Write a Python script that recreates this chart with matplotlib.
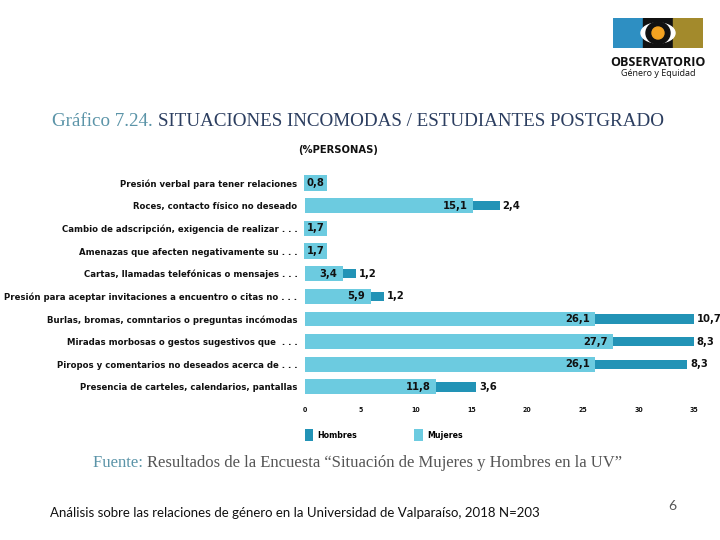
import matplotlib
matplotlib.use("Agg")
import matplotlib.pyplot as plt
from matplotlib.patches import Rectangle, Circle, Patch, Ellipse

categories = [
    "Presión verbal para tener relaciones",
    "Roces, contacto físico no deseado",
    "Cambio de adscripción, exigencia de realizar . . .",
    "Amenazas que afecten negativamente su . . .",
    "Cartas, llamadas telefónicas o mensajes . . .",
    "Presión para aceptar invitaciones a encuentro o citas no . . .",
    "Burlas, bromas, comntarios o preguntas incómodas",
    "Miradas morbosas o gestos sugestivos que  . . .",
    "Piropos y comentarios no deseados acerca de . . .",
    "Presencia de carteles, calendarios, pantallas",
]
mujeres = [0.8, 15.1, 1.7, 1.7, 3.4, 5.9, 26.1, 27.7, 26.1, 11.8]
hombres = [0.0, 2.4, 0.0, 0.0, 1.2, 1.2, 10.7, 8.3, 8.3, 3.6]
xticks = [0, 5, 10, 15, 20, 25, 30, 35]

LIGHT = "#6ccbe0"
DARK = "#2293b6"
COND = dict(family="DejaVu Sans", fontstretch="condensed", fontweight="bold")

fig = plt.figure(figsize=(7.2, 5.4), dpi=100)
W, H = 720, 540

def fx(px):
    return px / W

def fy(py):
    return 1 - py / H

ax = fig.add_axes([fx(305), fy(398.3), fx(694) - fx(305), fy(171.7) - fy(398.3)])
ypos = list(range(len(categories)))
ax.barh(ypos, mujeres, height=0.66, color=LIGHT, zorder=2)
ax.barh(ypos, hombres, left=mujeres, height=0.42, color=DARK, zorder=2)
ax.set_xlim(0, 35)
ax.set_ylim(len(categories) - 0.5, -0.5)
for s in ax.spines.values():
    s.set_visible(False)
ax.set_yticks(ypos)
ax.set_yticklabels(categories, fontsize=6.8, color="#111111", **COND)
ax.tick_params(axis="y", length=0, pad=5.5)
ax.set_xticks(xticks)
ax.set_xticklabels([str(t) for t in xticks], fontsize=5, color="#111111", **COND)
ax.tick_params(axis="x", length=0, pad=6)

VS = 8
for i, (m, h) in enumerate(zip(mujeres, hombres)):
    lab = f"{m:.1f}".replace(".", ",")
    if m >= 3:
        ax.text(m - 0.5, i, lab, ha="right", va="center", fontsize=VS,
                color="#111111", zorder=3, **COND)
    else:
        ax.text(0.15, i, lab, ha="left", va="center", fontsize=VS,
                color="#111111", zorder=3,
                bbox=dict(facecolor=LIGHT, edgecolor="none", pad=1.8), **COND)
    if h > 0:
        end = min(m + h, 35)
        ax.text(end + 0.25, i, f"{h:.1f}".replace(".", ","), ha="left",
                va="center", fontsize=VS, color="#111111", clip_on=False, **COND)

handles = [Patch(facecolor=DARK, edgecolor="none", label="Hombres"),
           Patch(facecolor=LIGHT, edgecolor="none", label="Mujeres")]
fig.legend(handles=handles, loc="center left", bbox_to_anchor=(fx(297), fy(435)),
           ncol=2, frameon=False, handlelength=0.95, handleheight=1.7,
           columnspacing=6.5, handletextpad=0.5,
           prop=dict(family="DejaVu Sans", stretch="condensed", weight="bold", size=6.3))

# Titles
t1 = fig.text(fx(52), fy(122), "Gráfico 7.24. ", fontsize=13.7, color="#5b94a8",
              family="Liberation Serif", va="center", ha="left")
fig.canvas.draw()
bb = t1.get_window_extent()
fig.text(bb.x1 / W, fy(122), "SITUACIONES INCOMODAS / ESTUDIANTES POSTGRADO",
         fontsize=13.7, color="#2c3e60", family="Liberation Serif", va="center", ha="left")
fig.text(fx(338), fy(150), "(%PERSONAS)", fontsize=8, color="#111111",
         ha="center", va="center", **COND)

f1 = fig.text(fx(93), fy(463), "Fuente: ", fontsize=12, color="#5b94a8",
              family="Liberation Serif", va="center", ha="left")
fig.canvas.draw()
bb2 = f1.get_window_extent()
fig.text(bb2.x1 / W, fy(463), "Resultados de la Encuesta \u201cSituación de Mujeres y Hombres en la UV\u201d",
         fontsize=12, color="#555555", family="Liberation Serif", va="center", ha="left")

fig.text(fx(50), fy(513), "Análisis sobre las relaciones de género en la Universidad de Valparaíso, 2018 N=203",
         fontsize=9.5, color="#111111", family="Lato", va="center", ha="left")
fig.text(fx(672), fy(506), "6", fontsize=10, color="#555555", family="Lato",
         va="center", ha="center")

# Logo (decorative)
lax = fig.add_axes([fx(613), fy(48), fx(703) - fx(613), fy(18) - fy(48)])
lax.set_xlim(0, 90)
lax.set_ylim(0, 30)
lax.axis("off")
lax.add_patch(Rectangle((0, 0), 30, 30, color="#2e8fc2"))
lax.add_patch(Rectangle((30, 0), 30, 30, color="#111111"))
lax.add_patch(Rectangle((60, 0), 30, 30, color="#a38a2c"))
lax.add_patch(Ellipse((45, 15), 34, 20, color="white"))
lax.add_patch(Ellipse((45, 15), 24, 22, color="#111111"))
lax.add_patch(Circle((45, 15), 6, color="#f4a321"))
fig.text(fx(658), fy(62), "OBSERVATORIO", fontsize=9, color="#111111",
         family="Open Sans", fontweight="bold", ha="center", va="center")
fig.text(fx(658), fy(74), "Género y Equidad", fontsize=6.5, color="#111111",
         family="Open Sans", ha="center", va="center")

fig.savefig("out.png", dpi=100)
